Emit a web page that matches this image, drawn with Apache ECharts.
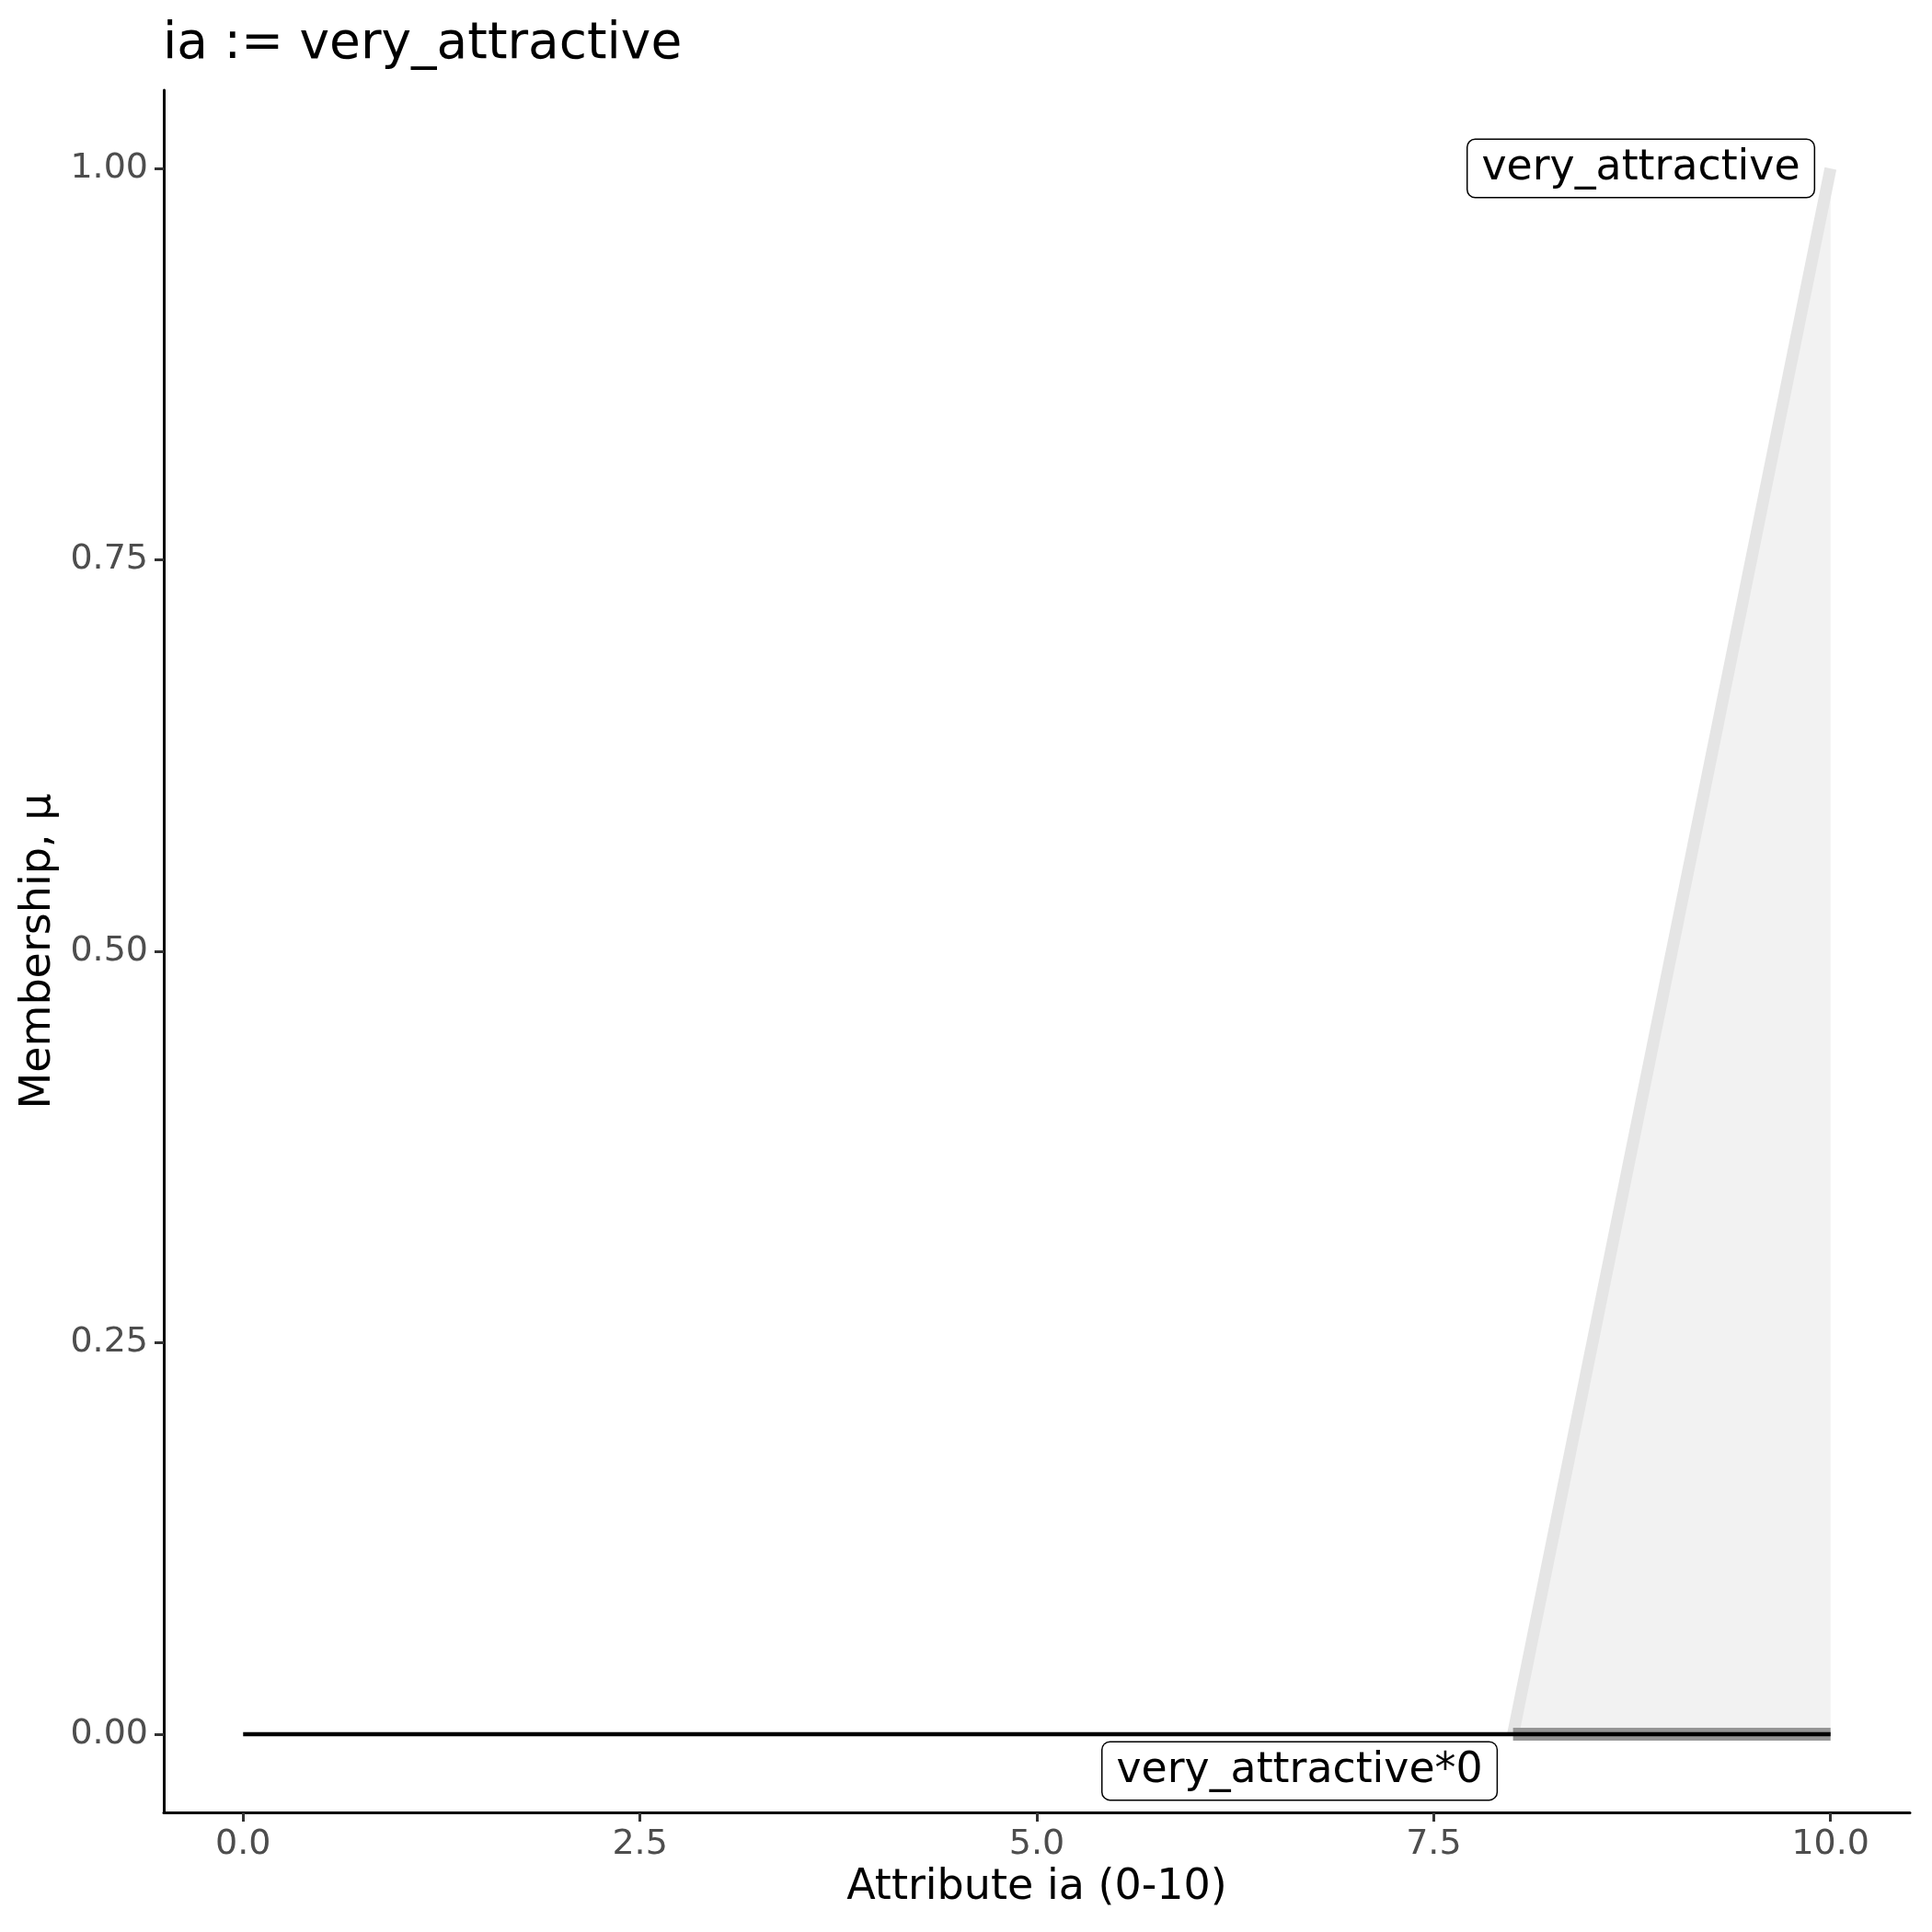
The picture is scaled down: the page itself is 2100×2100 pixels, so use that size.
<!DOCTYPE html>
<html>
<head>
<meta charset="utf-8">
<script src="https://cdn.jsdelivr.net/npm/echarts@6/dist/echarts.min.js"></script>
<style>
html,body{margin:0;padding:0;background:#fff;}
#chart{width:2100px;height:2100px;}
</style>
</head>
<body>
<div id="chart"></div>
<script>
// ---- data ----
const titleText = 'ia := very_attractive';
const xTitle = 'Attribute ia (0-10)';
const yTitle = 'Membership, \u03bc';
const xTicks = [0, 2.5, 5, 7.5, 10];
const yTicks = [0, 0.25, 0.5, 0.75, 1];
// membership function very_attractive (ramp)
const setX = [8, 10];
const setY = [0, 1];
// scaled set very_attractive*0
const scaledX = [8, 10];
const scaledY = [0, 0];
// baseline of scaled result across domain
const baseX = [0, 10];
const baseY = [0, 0];
// labels: text, x, y
const labelNames = ['very_attractive', 'very_attractive*0'];
const labelX = [8.805, 6.655];
const labelY = [1.0, -0.0235];

const FONT = 'DejaVu Sans';
const chart = echarts.init(document.getElementById('chart'), null, {renderer: 'canvas'});

function pairs(xs, ys) { return xs.map((x, i) => [x, ys[i]]); }

const option = {
  backgroundColor: '#ffffff',
  animation: false,
  title: {
    text: titleText,
    left: 172,
    top: 16,
    textStyle: {fontFamily: FONT, fontSize: 55, fontWeight: 'normal', color: '#000'}
  },
  grid: {left: 178, right: 24, top: 98, bottom: 130, containLabel: false},
  xAxis: {
    type: 'value',
    min: -0.5, max: 10.5,
    name: xTitle,
    nameLocation: 'middle',
    nameGap: 57,
    nameTextStyle: {fontFamily: FONT, fontSize: 46, color: '#000'},
    splitLine: {show: false},
    axisLine: {show: true, onZero: false, lineStyle: {color: '#000', width: 3}},
    axisTick: {show: true, length: 10, customValues: xTicks, lineStyle: {color: '#333', width: 3}},
    axisLabel: {
      customValues: xTicks,
      fontFamily: FONT, fontSize: 38, color: '#4D4D4D', margin: 16,
      formatter: v => Number(v).toFixed(1)
    }
  },
  yAxis: {
    type: 'value',
    min: -0.05, max: 1.05,
    name: yTitle,
    nameLocation: 'middle',
    nameGap: 110,
    nameRotate: 90,
    nameTextStyle: {fontFamily: FONT, fontSize: 46, color: '#000'},
    splitLine: {show: false},
    axisLine: {show: true, onZero: false, lineStyle: {color: '#000', width: 3}},
    axisTick: {show: true, length: 10, customValues: yTicks, lineStyle: {color: '#333', width: 3}},
    axisLabel: {
      customValues: yTicks,
      fontFamily: FONT, fontSize: 38, color: '#4D4D4D', margin: 17,
      formatter: v => Number(v).toFixed(2)
    }
  },
  series: [
    {
      type: 'line',
      name: 'very_attractive',
      data: pairs(setX, setY),
      showSymbol: false,
      symbol: 'none',
      lineStyle: {color: '#E5E5E5', width: 13, cap: 'butt'},
      areaStyle: {color: '#F2F2F2', opacity: 1},
      z: 1
    },
    {
      type: 'line',
      name: 'scaled band',
      data: pairs(scaledX, scaledY),
      symbol: 'none',
      lineStyle: {color: '#969696', width: 14, cap: 'butt'},
      z: 2
    },
    {
      type: 'line',
      name: 'very_attractive*0',
      data: pairs(baseX, baseY),
      symbol: 'none',
      lineStyle: {color: '#000', width: 4.5, cap: 'butt'},
      z: 3
    },
    {
      type: 'scatter',
      name: 'labels',
      symbolSize: 0,
      itemStyle: {opacity: 1},
      data: labelNames.map((n, i) => ({value: [labelX[i], labelY[i]], name: n})),
      label: {
        show: true,
        position: 'inside',
        formatter: p => p.name,
        fontFamily: FONT, fontSize: 45.8, color: '#000',
        backgroundColor: '#fff',
        borderColor: '#000', borderWidth: 1.5, borderRadius: 8,
        padding: [6, 15, 6, 15],
        lineHeight: 50,
        opacity: 1
      },
      emphasis: {disabled: true},
      z: 5
    }
  ]
};
chart.setOption(option);
</script>
</body>
</html>
